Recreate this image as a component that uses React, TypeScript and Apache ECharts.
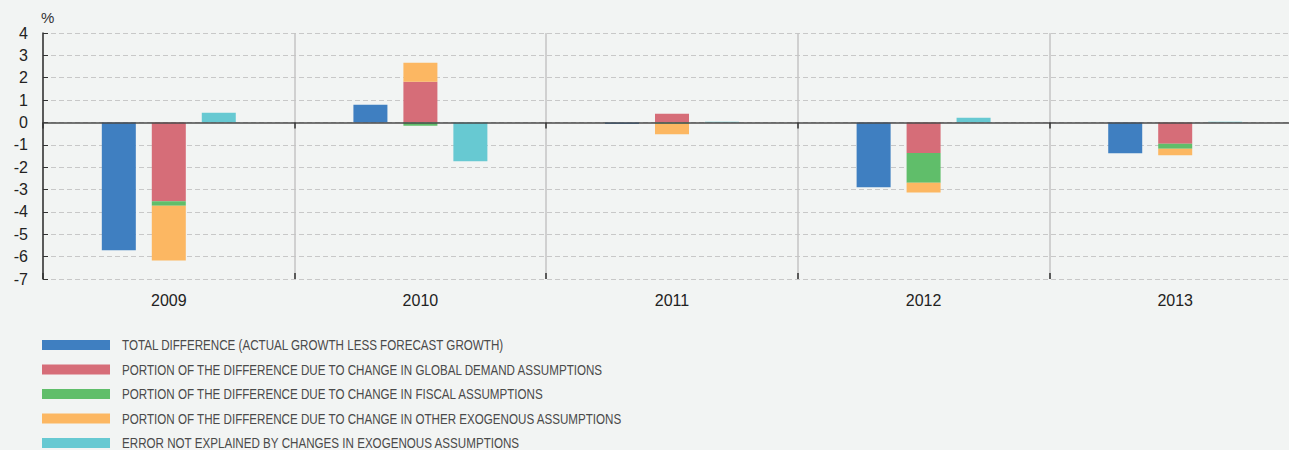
import React, { useEffect, useRef } from "react";
import * as echarts from "echarts";

const years = ["2009", "2010", "2011", "2012", "2013"];
const seriesNames = [
  "TOTAL DIFFERENCE (ACTUAL GROWTH LESS FORECAST GROWTH)",
  "PORTION OF THE DIFFERENCE DUE TO CHANGE IN GLOBAL DEMAND ASSUMPTIONS",
  "PORTION OF THE DIFFERENCE DUE TO CHANGE IN FISCAL ASSUMPTIONS",
  "PORTION OF THE DIFFERENCE DUE TO CHANGE IN OTHER EXOGENOUS ASSUMPTIONS",
  "ERROR NOT EXPLAINED BY CHANGES IN EXOGENOUS ASSUMPTIONS",
];
const totalDiff = [-5.72, 0.79, -0.07, -2.9, -1.38];
const globalDemand = [-3.52, 1.82, 0.39, -1.37, -0.95];
const fiscal = [-0.2, -0.15, -0.06, -1.33, -0.23];
const otherExog = [-2.45, 0.85, -0.47, -0.43, -0.29];
const unexplained = [0.43, -1.74, 0.03, 0.21, 0.03];
const colors = ["#3F7FC1", "#D66D78", "#60BE6A", "#FCB762", "#67C9D2"];

export default function App() {
  const ref = useRef<HTMLDivElement>(null);
  useEffect(() => {
    if (!ref.current) return;
    const chart = echarts.init(ref.current, null, { renderer: "svg" });
    const font = "'Liberation Sans', Arial, sans-serif";
    const catAxisBase = {
      type: "category" as const,
      data: years,
      boundaryGap: true,
    };
    // legend drawn as graphic elements so the condensed text can be matched
    const legendTop = 345;
    const legendStep = 24.5;
    const legendItems = seriesNames.map((name, i) => ({
      type: "group",
      x: 42,
      y: legendTop + i * legendStep,
      children: [
        { type: "rect", shape: { x: 0, y: -5, width: 68, height: 10 }, style: { fill: colors[i] } },
        {
          type: "text",
          x: 80,
          y: 0,
          scaleX: 0.775,
          style: {
            text: name,
            fill: "#4A4A4A",
            fontSize: 15,
            fontFamily: font,
            verticalAlign: "middle",
            align: "left",
          },
        },
      ],
    }));
    chart.setOption({
      animation: false,
      backgroundColor: "#F2F4F3",
      textStyle: { fontFamily: font },
      grid: { left: 43, right: 0, top: 33, bottom: 171, containLabel: false },
      graphic: legendItems,
      xAxis: [
        {
          ...catAxisBase,
          position: "bottom",
          axisLine: { show: false, onZero: false },
          axisTick: { show: false },
          axisLabel: { fontSize: 16, color: "#222", margin: 13, fontFamily: font },
          splitLine: { show: true, lineStyle: { color: "#C4C4C4", width: 1.5, type: "solid" } },
        },
        {
          ...catAxisBase,
          position: "bottom",
          z: 5,
          axisLine: { show: true, onZero: true, lineStyle: { color: "#4A4A4A", width: 1.5 } },
          axisTick: { show: true, length: 6, lineStyle: { color: "#333", width: 1.5 } },
          axisLabel: { show: false },
          splitLine: { show: false },
        },
        {
          ...catAxisBase,
          position: "bottom",
          z: 5,
          axisLine: { show: false, onZero: true },
          axisTick: { show: true, inside: true, length: 6, lineStyle: { color: "#333", width: 1.5 } },
          axisLabel: { show: false },
          splitLine: { show: false },
        },
      ],
      yAxis: {
        type: "value",
        min: -7,
        max: 4,
        interval: 1,
        name: "%",
        nameLocation: "end",
        nameGap: 8,
        nameTextStyle: { fontSize: 15, color: "#333", align: "left", padding: [0, 0, 0, -2] },
        axisLine: { show: true, lineStyle: { color: "#333", width: 1.5 } },
        axisTick: { show: true, inside: true, length: 5, lineStyle: { color: "#333" } },
        axisLabel: { fontSize: 16, color: "#222", margin: 15, fontFamily: font },
        splitLine: { show: true, lineStyle: { color: "#C8C8C8", type: [5, 3], width: 1 } },
      },
      series: [
        { name: seriesNames[0], type: "bar", data: totalDiff, itemStyle: { color: colors[0] }, barWidth: 34, barGap: "47%" },
        { name: seriesNames[1], type: "bar", stack: "parts", data: globalDemand, itemStyle: { color: colors[1] }, barWidth: 34, barGap: "47%" },
        { name: seriesNames[2], type: "bar", stack: "parts", data: fiscal, itemStyle: { color: colors[2] }, barWidth: 34, barGap: "47%" },
        { name: seriesNames[3], type: "bar", stack: "parts", data: otherExog, itemStyle: { color: colors[3] }, barWidth: 34, barGap: "47%" },
        { name: seriesNames[4], type: "bar", data: unexplained, itemStyle: { color: colors[4] }, barWidth: 34, barGap: "47%" },
      ],
    });
    return () => chart.dispose();
  }, []);
  return (
    <div style={{ position: "absolute", left: 0, top: 0, width: 1289, height: 450, overflow: "hidden", background: "#F2F4F3" }}>
      <div ref={ref} style={{ width: 1301, height: 450 }} />
    </div>
  );
}
